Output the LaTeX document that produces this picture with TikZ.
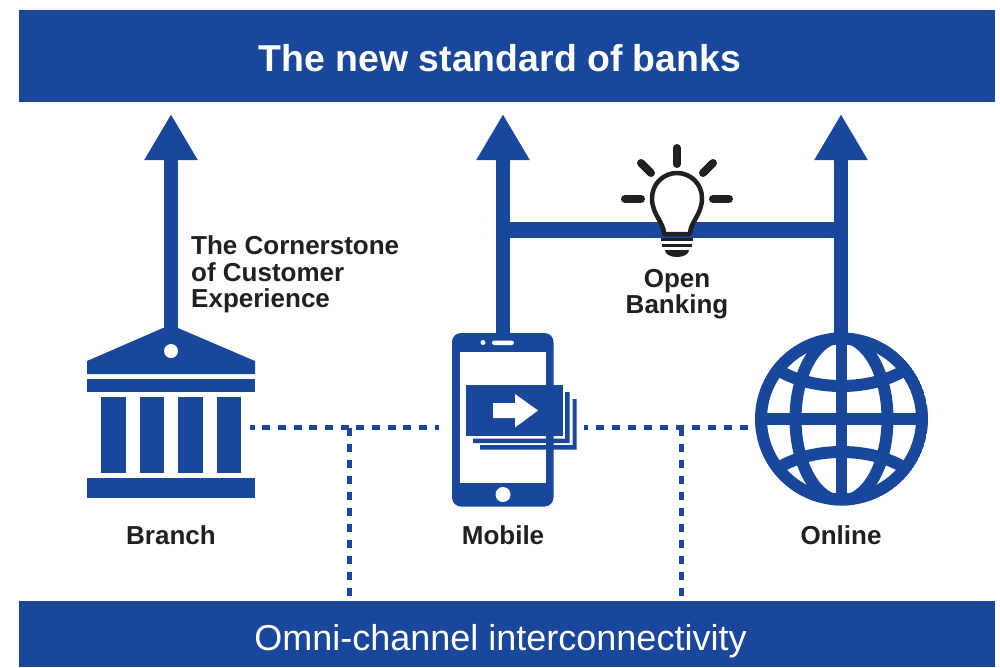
\documentclass[tikz,border=0pt]{standalone}
\usepackage{fontspec}
\setmainfont{Liberation Sans}
\usetikzlibrary{arrows.meta}
\definecolor{bankblue}{HTML}{18479B}
\definecolor{inkdark}{HTML}{231F20}
\tikzset{
  banner/.style={fill=bankblue,draw=none,inner sep=0pt,minimum width=976pt},
  bannertext/.style={text=white,inner sep=0pt,anchor=base},
  riser/.style={draw=bankblue,line width=14.5pt,-{Triangle[length=46pt,width=50pt]}},
  dotlineh/.style={draw=bankblue,line width=5.5pt,dash pattern=on 8pt off 7.67pt,dash phase=3.5pt},
  dotliner/.style={draw=bankblue,line width=5.5pt,dash pattern=on 7.5pt off 8.5pt,dash phase=3.8pt},
  dotlinev/.style={draw=bankblue,line width=5.5pt,dash pattern=on 8pt off 8pt},
  solidblue/.style={fill=bankblue,draw=none},
  caption/.style={text=inkdark,inner sep=0pt,font=\fontsize{26}{28}\selectfont\bfseries},
  ray/.style={draw=inkdark,line width=8pt,line cap=round},
  globeline/.style={draw=bankblue,line width=12pt},
}
\begin{document}
\begin{tikzpicture}[x=1pt,y=-1pt]
\useasboundingbox (0,0) rectangle (1000,667);
\fill[white] (0,0) rectangle (1000,667);
% banners
\node[banner,minimum height=92pt] (top) at (507,56) {};
\node[banner,minimum height=66pt] (bottom) at (507,634) {};
\node[bannertext,font=\fontsize{37.4}{39}\selectfont\bfseries] (toptext) at (500,71) {The new standard of banks};
\node[bannertext,font=\fontsize{36}{38}\selectfont] (bottomtext) at (500.5,650) {Omni-channel interconnectivity};
% anchor points
\coordinate (branchtop) at (171,335);
\coordinate (branchtip) at (171,114);
\coordinate (mobiletop) at (503,340);
\coordinate (mobiletip) at (503,114);
\coordinate (onlinetop) at (841,340);
\coordinate (onlinetip) at (841,114);
\coordinate (mobilejoin) at (503,230);
\coordinate (onlinejoin) at (841,230);
\coordinate (branchdot) at (250,427.5);
\coordinate (mobiledotL) at (438.7,427.5);
\coordinate (mobiledotR) at (584,427.5);
\coordinate (onlinedot) at (748.3,427.5);
\coordinate (tapL) at (349.3,427.5);
\coordinate (tapR) at (681.3,427.5);
\coordinate (footL) at (349.3,596);
\coordinate (footR) at (681.3,596);
% risers
\draw[riser] (branchtop) -- (branchtip);
\draw[riser] (mobiletop) -- (mobiletip);
\draw[riser] (onlinetop) -- (onlinetip);
\draw[draw=bankblue,line width=16pt] (mobilejoin) -- (onlinejoin);
% dotted links
\draw[dotlineh] (branchdot) -- (mobiledotL);
\draw[dotliner] (mobiledotR) -- (onlinedot);
\draw[dotlinev] (tapL) -- (footL);
\draw[dotlinev] (tapR) -- (footR);
% branch icon
\fill[solidblue] (163,328) -- (87,361) -- (87,374) -- (255,374) -- (255,361) -- (178,328) -- cycle;
\fill[white] (171,351) circle (7);
\fill[solidblue] (87,379) rectangle (255,392);
\fill[solidblue] (101,397) rectangle (125.5,473);
\fill[solidblue] (140,397) rectangle (164,473);
\fill[solidblue] (178,397) rectangle (202.5,473);
\fill[solidblue] (216.5,397) rectangle (241,473);
\fill[solidblue] (87,478) rectangle (255,498);
% mobile icon
\fill[solidblue,rounded corners=9pt] (452,333) rectangle (553.5,506.5);
\fill[white] (460,352) rectangle (546,482.5);
\fill[white] (483,342.5) circle (2.5);
\fill[white,rounded corners=2.2pt] (492,340.5) rectangle (514,345);
\fill[white] (503,494.5) circle (7.5);
\fill[solidblue] (480,445) -- (572.5,445) -- (572.5,399) -- (576.5,399) -- (576.5,449.5) -- (480,449.5) -- cycle;
\fill[solidblue] (473,438.5) -- (565,438.5) -- (565,392) -- (569.5,392) -- (569.5,443) -- (473,443) -- cycle;
\fill[solidblue] (466,385) rectangle (562.5,436);
\fill[white] (493,403) -- (515,403) -- (515,394) -- (538,410.5) -- (515,427.5) -- (515,418) -- (493,418) -- cycle;
% globe icon
\begin{scope}
\clip (841.5,419) circle (86.5);
\draw[globeline] (841.5,419) circle (80.5);
\draw[draw=bankblue,line width=11.5pt] (841.5,335) -- (841.5,503);
\draw[draw=bankblue,line width=11.5pt] (760,419) -- (923,419);
\draw[globeline] (841.5,419) ellipse [x radius=46, y radius=82];
\draw[globeline] (775,368) .. controls (810,392) and (873,392) .. (908,368);
\draw[globeline] (775,470) .. controls (810,446) and (873,446) .. (908,470);
\end{scope}
% bulb
\draw[ray] (677,148) -- (677,164);
\draw[ray] (641,163) -- (651,173);
\draw[ray] (713,163) -- (703,173);
\draw[ray] (625,199) -- (641,199);
\draw[ray] (713,199) -- (729,199);
\draw[draw=inkdark,line width=4.5pt,fill=white,line join=round]
  (664,234) .. controls (664,222) and (652,215) .. (652,198)
  arc[start angle=180,end angle=360,radius=25]
  .. controls (702,215) and (690,222) .. (690,234) -- cycle;
\fill[inkdark] (661,238) rectangle (693,240.5);
\fill[inkdark] (662,243.5) rectangle (692,247);
\fill[inkdark] (665,250) -- (689,250) .. controls (689,254) and (684,257) .. (677,257) .. controls (670,257) and (665,254) .. (665,250) -- cycle;
% captions
\node[caption,anchor=base west] (corner1) at (191,254) {The Cornerstone};
\node[caption,anchor=base west] (corner2) at (191,281) {of Customer};
\node[caption,anchor=base west] (corner3) at (191,307) {Experience};
\node[caption,anchor=base] (open1) at (677,287) {Open};
\node[caption,anchor=base] (open2) at (677,313) {Banking};
\node[caption,anchor=base] (branchlabel) at (171,544) {Branch};
\node[caption,anchor=base] (mobilelabel) at (503,544) {Mobile};
\node[caption,anchor=base] (onlinelabel) at (841,544) {Online};
\end{tikzpicture}
\end{document}
